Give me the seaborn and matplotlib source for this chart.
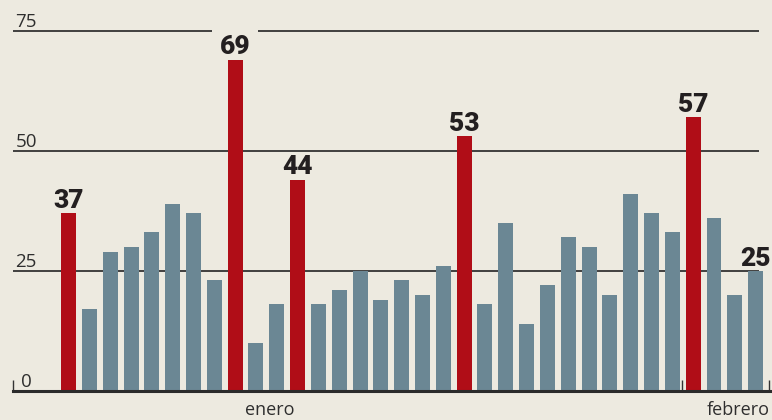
import numpy as np
import pandas as pd
import matplotlib
matplotlib.use("Agg")
import matplotlib.pyplot as plt
import seaborn as sns

# datos por dia (enero - febrero)
valores = [37, 17, 29, 30, 33, 39, 37, 23, 69, 10, 18, 44, 18, 21, 25, 19, 23,
           20, 26, 53, 18, 35, 14, 22, 32, 30, 20, 41, 37, 33, 57, 36, 20, 25]
rojos = [0, 8, 11, 19, 30]          # barras destacadas
etiquetas = [0, 8, 11, 19, 30, 33]  # barras con cifra encima
grid_vals = [25, 50, 75]
y_ticks = [0, 25, 50, 75]
meses = ["enero", "febrero"]

fondo = "#edeae0"
gris = "#6b8794"
rojo = "#b00d17"
negro = "#231f20"

df = pd.DataFrame({
    "dia": np.arange(len(valores)),
    "valor": valores,
    "tipo": ["rojo" if i in rojos else "gris" for i in range(len(valores))],
})

sns.set_style("white")
plt.rcParams["font.family"] = ["Open Sans", "DejaVu Sans"]

fig = plt.figure(figsize=(7.72, 4.2), dpi=100, facecolor=fondo)
ax = fig.add_axes([13 / 772, 29.3 / 420, 757 / 772, 390.7 / 420])
ax.set_facecolor(fondo)

sns.barplot(data=df, x="dia", y="valor", hue="tipo",
            palette={"rojo": rojo, "gris": gris}, dodge=False,
            width=0.72, saturation=1, legend=False, ax=ax, zorder=4,
            edgecolor="none", linewidth=0)

x0, x1 = -2.67, 33.69
ax.set_xlim(x0, x1)
ax.set_ylim(0, 81.4)

# lineas de referencia
ax.hlines(grid_vals, x0, 33.18, color="#333333", lw=1.3, zorder=1)

# etiquetas del eje y
for t in y_ticks:
    ax.text(-2.04, t + 0.7, str(t), ha="center", va="baseline",
            fontsize=13.5, color="#2e2e2e", zorder=2)

# cifras sobre barras
for i in etiquetas:
    v = valores[i]
    kw = {}
    if v == max(valores):
        kw["bbox"] = dict(boxstyle="square,pad=0.3", fc=fondo, ec="none")
    ax.text(i, v + 1.05, str(v), ha="center", va="baseline",
            fontsize=19, fontweight="black", family=["Roboto", "DejaVu Sans"],
            color=negro, zorder=3, clip_on=False, **kw)

# eje x
for s in ["top", "right", "left"]:
    ax.spines[s].set_visible(False)
ax.spines["bottom"].set_linewidth(2.2)
ax.spines["bottom"].set_color("#2b2b2b")
ax.spines["bottom"].set_zorder(5)
ax.set_xticks([-2.67, 29.45, 33.66])
ax.set_xticklabels([])
ax.tick_params(axis="x", bottom=True, direction="in", length=8, width=1,
               color="#333333")
ax.set_yticks([])
ax.set_xlabel("")
ax.set_ylabel("")

ax.text(9.64, -5.0, meses[0], ha="center", va="baseline", fontsize=13,
        color="#2e2e2e", clip_on=False)
ax.text(33.69, -5.0, meses[1], ha="right", va="baseline", fontsize=13,
        color="#2e2e2e", clip_on=False)

plt.savefig("out.png", dpi=100, facecolor=fondo)
plt.close()
